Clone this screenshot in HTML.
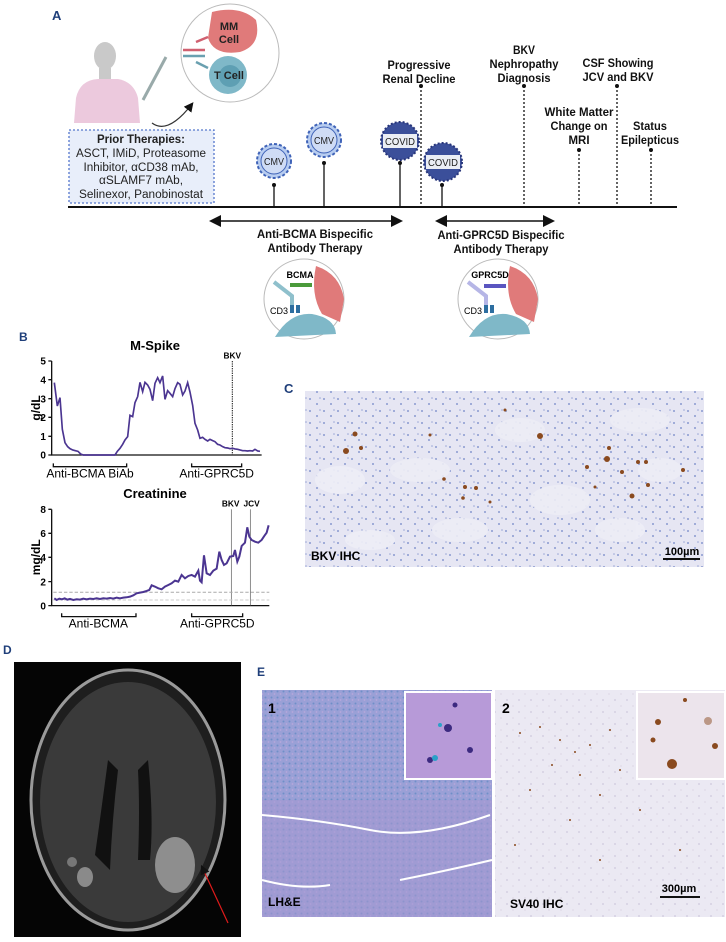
<!DOCTYPE html>
<html><head><meta charset="utf-8"><style>
body{margin:0;background:#fff;}
svg{display:block;font-family:"Liberation Sans",sans-serif;}
</style></head><body>
<svg width="726" height="942" viewBox="0 0 726 942">
<defs>
<pattern id="kid" width="14" height="12" patternUnits="userSpaceOnUse">
<rect width="14" height="12" fill="#e6e6f3"/>
<circle cx="2" cy="3" r="1" fill="#8a9ad0"/><circle cx="9" cy="8" r="1" fill="#8a9ad0"/><circle cx="12" cy="2" r="0.8" fill="#9aa6d6"/>
</pattern>
<pattern id="he" width="6" height="6" patternUnits="userSpaceOnUse">
<rect width="6" height="6" fill="#9aa0d6"/><circle cx="1.5" cy="1.5" r="1" fill="#6f8fc8"/><circle cx="4.5" cy="4" r="0.9" fill="#b7a7dc"/>
</pattern>
<pattern id="sv" width="12" height="12" patternUnits="userSpaceOnUse">
<rect width="12" height="12" fill="#ebe9f3"/><circle cx="3" cy="4" r="0.6" fill="#b0a8c8"/><circle cx="9" cy="10" r="0.5" fill="#c4b9cc"/>
</pattern>
<marker id="ah" markerWidth="8" markerHeight="8" refX="6" refY="4" orient="auto"><path d="M0,0 L8,4 L0,8 z" fill="#111"/></marker>
<marker id="ahs" markerWidth="8" markerHeight="8" refX="2" refY="4" orient="auto-start-reverse"><path d="M0,0 L8,4 L0,8 z" fill="#111"/></marker>
</defs>

<!-- Panel A -->
<text x="52" y="20" font-size="13" font-weight="bold" fill="#1f3f7a">A</text>
<!-- person -->
<ellipse cx="105" cy="56" rx="11" ry="14" fill="#c9c9c9"/>
<rect x="99" y="68" width="12" height="12" fill="#c9c9c9"/>
<path d="M74,123 L76,98 Q80,80 98,79 L118,79 Q134,82 138,98 L140,123 Z" fill="#ecc9dd"/>
<path d="M143,100 L166,57" stroke="#9aa" stroke-width="3"/>
<path d="M152,123 Q168,135 192,104" stroke="#333" stroke-width="1.2" fill="none" marker-end="url(#ah)"/>
<!-- cell circle -->
<circle cx="230" cy="53" r="49" fill="#fff" stroke="#bbb"/>
<path d="M212,12 Q240,5 256,20 Q262,45 240,52 Q214,56 208,38 Z" fill="#e07a7a"/>
<text x="229" y="30" font-size="11" font-weight="bold" text-anchor="middle" fill="#222">MM</text>
<text x="229" y="43" font-size="11" font-weight="bold" text-anchor="middle" fill="#222">Cell</text>
<circle cx="228" cy="75" r="19" fill="#7fb8c8"/><circle cx="230" cy="76" r="11" fill="#5e9fb3"/>
<text x="229" y="79" font-size="11" font-weight="bold" text-anchor="middle" fill="#222">T Cell</text>
<path d="M183,50 L205,50 M196,42 L208,37" stroke="#d06070" stroke-width="2.5"/>
<path d="M183,56 L205,56 M196,62 L208,68" stroke="#6aa0b0" stroke-width="2.5"/>
<!-- prior therapies box -->
<rect x="69" y="130" width="145" height="73" fill="#e8eefa" stroke="#5577cc" stroke-width="1.3" stroke-dasharray="2,2"/>
<g font-size="11.5" text-anchor="middle" fill="#222" lengthAdjust="spacingAndGlyphs">
<text x="141" y="143" font-weight="bold" textLength="88" lengthAdjust="spacingAndGlyphs">Prior Therapies:</text>
<text x="141" y="157" textLength="130" lengthAdjust="spacingAndGlyphs">ASCT, IMiD, Proteasome</text>
<text x="141" y="171" textLength="115" lengthAdjust="spacingAndGlyphs">Inhibitor, αCD38 mAb,</text>
<text x="141" y="184" textLength="84" lengthAdjust="spacingAndGlyphs">αSLAMF7 mAb,</text>
<text x="141" y="198" textLength="124" lengthAdjust="spacingAndGlyphs">Selinexor, Panobinostat</text>
</g>
<!-- timeline -->
<line x1="68" y1="207" x2="677" y2="207" stroke="#111" stroke-width="2"/>
<g stroke="#111" stroke-width="1.3">
<line x1="274" y1="185" x2="274" y2="207"/><line x1="324" y1="163" x2="324" y2="207"/>
<line x1="400" y1="163" x2="400" y2="207"/><line x1="442" y1="185" x2="442" y2="207"/>
</g>
<g fill="#111"><circle cx="274" cy="185" r="2"/><circle cx="324" cy="163" r="2"/><circle cx="400" cy="163" r="2"/><circle cx="442" cy="185" r="2"/>
<circle cx="421" cy="86" r="2"/><circle cx="524" cy="86" r="2"/><circle cx="579" cy="150" r="2"/><circle cx="617" cy="86" r="2"/><circle cx="651" cy="150" r="2"/></g>
<g stroke="#111" stroke-width="1.3" stroke-dasharray="2,2">
<line x1="421" y1="86" x2="421" y2="207"/><line x1="524" y1="86" x2="524" y2="207"/>
<line x1="579" y1="150" x2="579" y2="207"/><line x1="617" y1="86" x2="617" y2="207"/><line x1="651" y1="150" x2="651" y2="207"/>
</g>
<!-- viruses -->
<g font-size="10" text-anchor="middle" fill="#222">
<circle cx="274" cy="161" r="17" fill="#b8cdf0" stroke="#3f63b8" stroke-width="2" stroke-dasharray="3,2"/><circle cx="274" cy="161" r="13" fill="#cfdcf5" stroke="#3f63b8"/><text x="274" y="165" textLength="20" lengthAdjust="spacingAndGlyphs">CMV</text>
<circle cx="324" cy="140" r="17" fill="#b8cdf0" stroke="#3f63b8" stroke-width="2" stroke-dasharray="3,2"/><circle cx="324" cy="140" r="13" fill="#cfdcf5" stroke="#3f63b8"/><text x="324" y="144" textLength="20" lengthAdjust="spacingAndGlyphs">CMV</text>
<circle cx="400" cy="141" r="19" fill="#3b4f9a" stroke="#27357a" stroke-width="2" stroke-dasharray="2,2"/><rect x="383" y="134" width="34" height="14" fill="#fff" opacity="0.9"/><text x="400" y="145" textLength="30" lengthAdjust="spacingAndGlyphs">COVID</text>
<circle cx="443" cy="162" r="19" fill="#3b4f9a" stroke="#27357a" stroke-width="2" stroke-dasharray="2,2"/><rect x="426" y="155" width="34" height="14" fill="#fff" opacity="0.9"/><text x="443" y="166" textLength="30" lengthAdjust="spacingAndGlyphs">COVID</text>
</g>
<g font-size="12" font-weight="bold" text-anchor="middle" fill="#111">
<text x="419" y="69" textLength="63" lengthAdjust="spacingAndGlyphs">Progressive</text><text x="419" y="83" textLength="73" lengthAdjust="spacingAndGlyphs">Renal Decline</text>
<text x="524" y="54" textLength="22" lengthAdjust="spacingAndGlyphs">BKV</text><text x="524" y="68" textLength="69" lengthAdjust="spacingAndGlyphs">Nephropathy</text><text x="524" y="82" textLength="53" lengthAdjust="spacingAndGlyphs">Diagnosis</text>
<text x="618" y="67" textLength="71" lengthAdjust="spacingAndGlyphs">CSF Showing</text><text x="618" y="81" textLength="71" lengthAdjust="spacingAndGlyphs">JCV and BKV</text>
<text x="579" y="116" textLength="69" lengthAdjust="spacingAndGlyphs">White Matter</text><text x="579" y="130" textLength="57" lengthAdjust="spacingAndGlyphs">Change on</text><text x="579" y="144" textLength="21" lengthAdjust="spacingAndGlyphs">MRI</text>
<text x="650" y="130" textLength="34" lengthAdjust="spacingAndGlyphs">Status</text><text x="650" y="144" textLength="58" lengthAdjust="spacingAndGlyphs">Epilepticus</text>
<text x="315" y="238" textLength="116" lengthAdjust="spacingAndGlyphs">Anti-BCMA Bispecific</text><text x="315" y="252" textLength="95" lengthAdjust="spacingAndGlyphs">Antibody Therapy</text>
<text x="501" y="239" textLength="127" lengthAdjust="spacingAndGlyphs">Anti-GPRC5D Bispecific</text><text x="501" y="253" textLength="95" lengthAdjust="spacingAndGlyphs">Antibody Therapy</text>
</g>
<line x1="218" y1="221" x2="400" y2="221" stroke="#111" stroke-width="1.5" marker-end="url(#ah)" marker-start="url(#ahs)"/>
<line x1="444" y1="221" x2="552" y2="221" stroke="#111" stroke-width="1.5" marker-end="url(#ah)" marker-start="url(#ahs)"/>
<!-- mini circles -->
<g>
<circle cx="304" cy="299" r="40" fill="#fff" stroke="#bbb"/>
<path d="M316,266 Q340,274 344,299 L340,322 L322,314 Q310,294 316,266Z" fill="#e07a7a"/>
<path d="M275,337 Q290,312 312,314 Q335,318 336,334 Z" fill="#7fb8c8"/>
<path d="M274,282 L292,296 L292,312" stroke="#8fc0cc" stroke-width="4" fill="none"/>
<path d="M290,285 L312,285" stroke="#4a9a3a" stroke-width="4"/>
<text x="300" y="278" font-size="9" font-weight="bold" text-anchor="middle">BCMA</text>
<text x="279" y="314" font-size="9" text-anchor="middle">CD3</text>
<rect x="290" y="305" width="4" height="8" fill="#2d6ea0"/><rect x="296" y="305" width="4" height="8" fill="#2d6ea0"/>
</g>
<g>
<circle cx="498" cy="299" r="40" fill="#fff" stroke="#bbb"/>
<path d="M510,266 Q534,274 538,299 L534,322 L516,314 Q504,294 510,266Z" fill="#e07a7a"/>
<path d="M469,337 Q484,312 506,314 Q529,318 530,334 Z" fill="#7fb8c8"/>
<path d="M468,282 L486,296 L486,312" stroke="#b6b6e6" stroke-width="4" fill="none"/>
<path d="M484,286 L506,286" stroke="#5a55c0" stroke-width="4"/>
<text x="490" y="278" font-size="9" font-weight="bold" text-anchor="middle">GPRC5D</text>
<text x="473" y="314" font-size="9" text-anchor="middle">CD3</text>
<rect x="484" y="305" width="4" height="8" fill="#2d6ea0"/><rect x="490" y="305" width="4" height="8" fill="#2d6ea0"/>
</g>

<!-- Panel B -->
<text x="19" y="341" font-size="12" font-weight="bold" fill="#1f3f7a">B</text>
<text x="155" y="350" font-size="13" font-weight="bold" text-anchor="middle">M-Spike</text>
<text x="155" y="498" font-size="13" font-weight="bold" text-anchor="middle">Creatinine</text>
<g transform="translate(0,330) scale(0.3333)">
<g stroke="#111" stroke-width="4" fill="none">
<path d="M155,93 V375 H785"/>
<path d="M145,93 H155 M145,149 H155 M145,206 H155 M145,262 H155 M145,319 H155 M145,375 H155"/>
<path d="M160,400 V410 H380 V400 M575,400 V410 H725 V400"/>
<path d="M155,538 V827 H808"/>
<path d="M145,538 H155 M145,610 H155 M145,682 H155 M145,755 H155 M145,827 H155"/>
<path d="M185,850 V860 H408 V850 M575,850 V860 H728 V850"/>
</g>
<g font-size="30" font-weight="bold" text-anchor="end"><text x="138" y="104">5</text><text x="138" y="160">4</text><text x="138" y="217">3</text><text x="138" y="273">2</text><text x="138" y="330">1</text><text x="138" y="386">0</text>
<text x="138" y="549">8</text><text x="138" y="621">6</text><text x="138" y="693">4</text><text x="138" y="766">2</text><text x="138" y="838">0</text></g>
<text transform="translate(120,234) rotate(-90)" font-size="36" font-weight="bold" text-anchor="middle">g/dL</text>
<text transform="translate(120,682) rotate(-90)" font-size="36" font-weight="bold" text-anchor="middle">mg/dL</text>
<g font-size="36" text-anchor="middle"><text x="270" y="442">Anti-BCMA BiAb</text><text x="650" y="442">Anti-GPRC5D</text>
<text x="295" y="893">Anti-BCMA</text><text x="652" y="893">Anti-GPRC5D</text></g>
<g font-size="25" font-weight="bold" text-anchor="middle"><text x="697" y="86">BKV</text><text x="692" y="529">BKV</text><text x="755" y="529">JCV</text></g>
<line x1="697" y1="93" x2="697" y2="375" stroke="#111" stroke-width="3" stroke-dasharray="4,3"/>
<line x1="694" y1="538" x2="694" y2="827" stroke="#555" stroke-width="2"/>
<line x1="751" y1="538" x2="751" y2="827" stroke="#555" stroke-width="2"/>
<line x1="160" y1="787" x2="808" y2="787" stroke="#aaa" stroke-width="3" stroke-dasharray="10,6"/>
<line x1="160" y1="810" x2="808" y2="810" stroke="#ccc" stroke-width="3" stroke-dasharray="10,6"/>
<polyline fill="none" stroke="#4b3591" stroke-width="5" points="163,158 172,228 180,203 187,298 195,338 203,350 210,356 218,360 226,362 234,364 242,372 250,375 270,375 290,375 310,375 330,375 345,375 352,364 360,355 368,343 375,330 383,320 390,256 398,260 405,218 413,200 420,157 428,185 435,157 443,165 450,178 458,212 465,160 473,143 480,158 488,138 495,208 503,182 510,190 518,200 525,176 533,158 540,163 548,195 555,183 563,158 570,186 578,226 585,280 593,300 600,325 608,322 615,328 623,333 630,328 638,332 645,335 653,343 660,345 668,350 675,353 683,354 690,356 698,355 705,357 713,358 720,360 728,362 735,362 743,363 750,362 758,363 765,358 773,363 780,364"/>
<polyline fill="none" stroke="#4b3591" stroke-width="6" points="163,805 170,810 178,806 186,808 194,805 202,809 210,807 220,810 230,808 240,809 250,806 260,808 270,806 280,807 290,805 300,807 310,805 320,806 330,804 340,806 350,803 360,805 370,803 380,802 390,800 400,796 410,790 420,788 430,786 440,783 448,780 455,766 465,770 475,775 485,778 495,770 505,765 515,760 525,752 535,755 545,735 555,745 565,738 575,735 585,740 595,722 600,752 605,757 612,676 620,730 630,735 640,722 650,716 658,665 665,690 672,705 680,700 690,680 700,678 705,660 712,695 718,680 725,648 735,638 742,592 748,620 755,630 765,635 775,638 785,630 793,618 800,608 806,586"/>
</g>

<!-- Panel C -->
<text x="284" y="393" font-size="13" font-weight="bold" fill="#1f3f7a">C</text>
<rect x="305" y="391" width="399" height="176" fill="url(#kid)"/>
<g fill="#ededf6" opacity="0.9">
<ellipse cx="340" cy="480" rx="25" ry="14"/><ellipse cx="420" cy="470" rx="30" ry="12"/><ellipse cx="520" cy="430" rx="25" ry="12"/>
<ellipse cx="560" cy="500" rx="30" ry="15"/><ellipse cx="460" cy="530" rx="28" ry="12"/><ellipse cx="640" cy="420" rx="30" ry="12"/>
<ellipse cx="370" cy="540" rx="25" ry="10"/><ellipse cx="620" cy="530" rx="25" ry="12"/><ellipse cx="660" cy="470" rx="22" ry="12"/>
</g>
<g fill="#8a4a1f">
<circle cx="355" cy="434" r="2.5"/><circle cx="346" cy="451" r="3"/><circle cx="361" cy="448" r="2"/>
<circle cx="430" cy="435" r="1.5"/><circle cx="540" cy="436" r="3"/><circle cx="505" cy="410" r="1.5"/>
<circle cx="607" cy="459" r="3"/><circle cx="609" cy="448" r="2"/><circle cx="622" cy="472" r="2"/><circle cx="638" cy="462" r="2"/>
<circle cx="632" cy="496" r="2.5"/><circle cx="648" cy="485" r="2"/><circle cx="646" cy="462" r="2"/><circle cx="683" cy="470" r="2"/>
<circle cx="465" cy="487" r="2"/><circle cx="476" cy="488" r="2"/><circle cx="463" cy="498" r="1.8"/><circle cx="444" cy="479" r="1.8"/>
<circle cx="490" cy="502" r="1.5"/><circle cx="587" cy="467" r="2"/><circle cx="595" cy="487" r="1.5"/>
</g>
<text x="311" y="560" font-size="12" font-weight="bold">BKV IHC</text>
<text x="682" y="555" font-size="11" font-weight="bold" text-anchor="middle">100µm</text>
<line x1="663" y1="559" x2="700" y2="559" stroke="#111" stroke-width="2"/>

<!-- Panel D -->
<text x="3" y="654" font-size="12" font-weight="bold" fill="#1f3f7a">D</text>
<rect x="14" y="662" width="227" height="275" fill="#050505"/>
<ellipse cx="128" cy="800" rx="97" ry="130" fill="#1e1e1e" stroke="#9a9a9a" stroke-width="3"/>
<ellipse cx="128" cy="802" rx="88" ry="120" fill="#3a3a3a"/>
<path d="M108,760 Q100,820 95,855 L110,870 Q112,820 118,770Z" fill="#111"/>
<path d="M148,760 Q154,820 150,860 L138,860 Q140,810 138,770Z" fill="#111"/>
<ellipse cx="175" cy="865" rx="20" ry="28" fill="#8e8e8e"/>
<ellipse cx="85" cy="877" rx="8" ry="10" fill="#8a8a8a"/><ellipse cx="72" cy="862" rx="5" ry="5" fill="#777"/>
<line x1="228" y1="923" x2="202" y2="867" stroke="#e01b1b" stroke-width="1.2" marker-end="url(#ah)"/>

<!-- Panel E -->
<text x="257" y="676" font-size="12" font-weight="bold" fill="#1f3f7a">E</text>
<rect x="262" y="690" width="230" height="227" fill="url(#he)"/>
<rect x="262" y="800" width="230" height="117" fill="#a597d1" opacity="0.55"/>
<path d="M262,815 Q320,820 370,830 T490,815" stroke="#fff" stroke-width="2" fill="none"/>
<path d="M262,880 Q300,890 330,885 M400,880 Q450,870 492,860" stroke="#fff" stroke-width="2" fill="none"/>
<rect x="405" y="692" width="87" height="87" fill="#b79ad8" stroke="#fff" stroke-width="2"/>
<g fill="#3c2a80"><circle cx="448" cy="728" r="4"/><circle cx="430" cy="760" r="3"/><circle cx="470" cy="750" r="3"/><circle cx="455" cy="705" r="2.5"/></g>
<g fill="#2aa0c8"><circle cx="440" cy="725" r="2"/><circle cx="435" cy="758" r="3"/></g>
<text x="268" y="713" font-size="14" font-weight="bold">1</text>
<text x="268" y="906" font-size="12" font-weight="bold">LH&amp;E</text>
<rect x="495" y="690" width="230" height="227" fill="url(#sv)"/>
<rect x="637" y="692" width="88" height="87" fill="#ece4ec" stroke="#fff" stroke-width="2"/>
<g fill="#8a4a1f"><circle cx="658" cy="722" r="3"/><circle cx="653" cy="740" r="2.5"/><circle cx="672" cy="764" r="5"/><circle cx="715" cy="746" r="3"/><circle cx="708" cy="721" r="4" opacity="0.5"/><circle cx="685" cy="700" r="2"/></g>
<g fill="#8a4a1f">
<circle cx="520" cy="733" r="1"/><circle cx="540" cy="727" r="1"/><circle cx="560" cy="740" r="1"/><circle cx="575" cy="752" r="1"/><circle cx="590" cy="745" r="1"/><circle cx="610" cy="730" r="1"/><circle cx="552" cy="765" r="1"/><circle cx="580" cy="775" r="1"/><circle cx="620" cy="770" r="1"/><circle cx="600" cy="795" r="1"/><circle cx="530" cy="790" r="1"/><circle cx="570" cy="820" r="1"/><circle cx="640" cy="810" r="1"/><circle cx="515" cy="845" r="1"/><circle cx="600" cy="860" r="1"/><circle cx="680" cy="850" r="1"/>
</g>
<text x="502" y="713" font-size="14" font-weight="bold">2</text>
<text x="510" y="908" font-size="12" font-weight="bold">SV40 IHC</text>
<text x="679" y="892" font-size="11" font-weight="bold" text-anchor="middle">300µm</text>
<line x1="660" y1="897" x2="700" y2="897" stroke="#111" stroke-width="2"/>
</svg>
</body></html>
